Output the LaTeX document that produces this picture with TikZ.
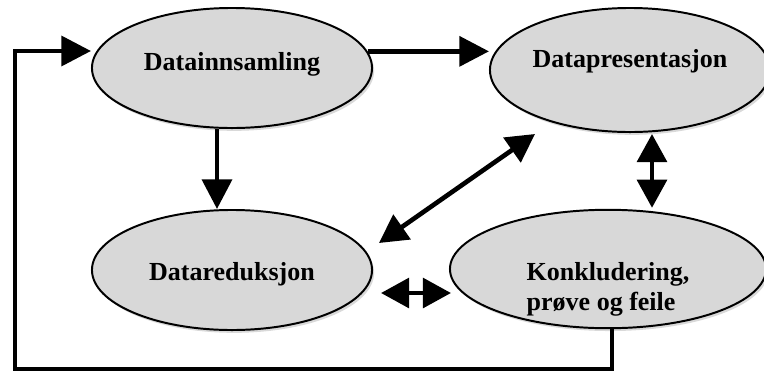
\documentclass[tikz,border=0pt]{standalone}
\usepackage{fontspec}
\setmainfont{Liberation Serif}
\definecolor{bubblegray}{RGB}{216,216,216}
\usetikzlibrary{shapes,arrows.meta,positioning,calc,shadows}

\begin{document}
\begin{tikzpicture}[x=0.025cm, y=-0.025cm,
    stage/.style={ellipse, draw=black, line width=1.4pt, fill=bubblegray,
        inner sep=0pt, font=\fontsize{18.5}{21.5}\selectfont\bfseries,
        drop shadow={shadow xshift=1.5pt, shadow yshift=-2pt, opacity=0.3}},
    flow/.style={line width=3.3pt, -{Triangle[length=21pt,width=21pt]}},
    swap/.style={line width=3.3pt,
        {Triangle[length=20pt,width=21pt]}-{Triangle[length=20pt,width=21pt]}}]
    \useasboundingbox (0,0) rectangle (764,376);

    % Stages
    \node[stage, minimum width=7cm, minimum height=3cm,
        text height=12.5pt, text depth=9.5pt] (innsamling) at (232,68) {Datainnsamling};
    \node[stage, minimum width=7cm, minimum height=3.1cm,
        text height=12.5pt, text depth=16.7pt] (presentasjon) at (630,70) {Datapresentasjon};
    \node[stage, minimum width=7cm, minimum height=3cm,
        text height=17pt, text depth=1.4pt] (reduksjon) at (232,270) {Datareduksjon};
    \node[stage, minimum width=7.9cm, minimum height=2.96cm, align=left,
        text height=59pt, text depth=0pt] (konklusjon) at (608,269) {Konkludering,\\prøve og feile};

    % One-way flows
    \draw[flow] (innsamling.7) -- (innsamling.7 -| presentasjon.west);
    \draw[flow] ($(innsamling.south)+(-15,0)$) -- ($(reduksjon.north)+(-15,0)$);

    % Two-way links
    \draw[swap] ($(reduksjon.east)+(6,-27)$) -- ($(presentasjon.south)+(-95,1)$);
    \draw[swap] ($(presentasjon.south)+(22,1)$) -- ($(konklusjon.north)+(44,-1)$);
    \draw[swap] ($(reduksjon.east)+(8,23)$) -- ($(konklusjon.west)+(2,24)$);

    % Feedback loop
    \coordinate (loopcorner) at (612,369);
    \coordinate (looptop) at (15,51);
    \draw[flow] (loopcorner |- konklusjon.south) -- (loopcorner) -- (loopcorner -| looptop)
        -- (looptop) -- (innsamling.west |- looptop);
\end{tikzpicture}
\end{document}
